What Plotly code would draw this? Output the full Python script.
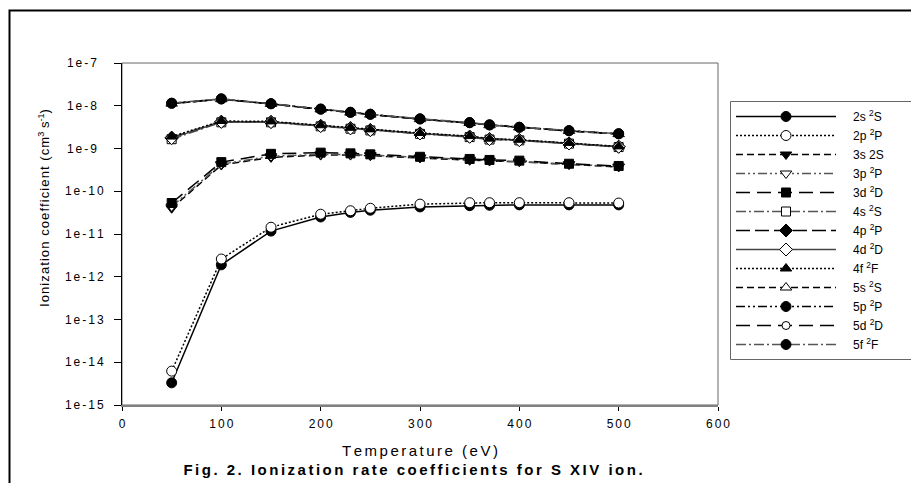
import plotly.graph_objects as go

# Electron temperature grid (eV)
temperature = [50, 100, 150, 200, 230, 250, 300, 350, 370, 400, 450, 500]

# Ionization rate coefficients (cm^3 s^-1) for each initial level
rate_2s = [3.3e-15, 1.9e-12, 1.17e-11, 2.5e-11, 3.2e-11, 3.6e-11, 4.3e-11, 4.6e-11, 4.7e-11, 4.8e-11, 4.8e-11, 4.8e-11]
rate_2p = [6.2e-15, 2.6e-12, 1.44e-11, 2.9e-11, 3.5e-11, 4.0e-11, 5.0e-11, 5.4e-11, 5.4e-11, 5.4e-11, 5.4e-11, 5.3e-11]
rate_3s = [4.0e-11, 4.1e-10, 6.2e-10, 7.0e-10, 7.0e-10, 6.8e-10, 6.0e-10, 5.3e-10, 5.1e-10, 4.9e-10, 4.2e-10, 3.7e-10]
rate_3p = [4.4e-11, 4.3e-10, 6.6e-10, 7.3e-10, 7.2e-10, 7.0e-10, 6.2e-10, 5.5e-10, 5.2e-10, 5.0e-10, 4.3e-10, 3.8e-10]
rate_3d = [5.3e-11, 4.8e-10, 7.5e-10, 8.0e-10, 7.7e-10, 7.3e-10, 6.4e-10, 5.7e-10, 5.4e-10, 5.2e-10, 4.4e-10, 3.9e-10]
rate_4s = [1.65e-9, 4.1e-9, 4.1e-9, 3.3e-9, 2.9e-9, 2.65e-9, 2.2e-9, 1.85e-9, 1.62e-9, 1.55e-9, 1.3e-9, 1.08e-9]
rate_4p = [1.8e-9, 4.25e-9, 4.2e-9, 3.4e-9, 3.0e-9, 2.7e-9, 2.26e-9, 1.9e-9, 1.67e-9, 1.58e-9, 1.32e-9, 1.1e-9]
rate_4d = [1.75e-9, 4.2e-9, 4.15e-9, 3.35e-9, 2.95e-9, 2.7e-9, 2.25e-9, 1.88e-9, 1.66e-9, 1.57e-9, 1.31e-9, 1.1e-9]
rate_4f = [1.9e-9, 4.4e-9, 4.3e-9, 3.5e-9, 3.05e-9, 2.8e-9, 2.3e-9, 1.95e-9, 1.7e-9, 1.6e-9, 1.35e-9, 1.12e-9]
rate_5s = [1.12e-8, 1.42e-8, 1.1e-8, 8.2e-9, 6.9e-9, 6.2e-9, 4.85e-9, 3.95e-9, 3.5e-9, 3.1e-9, 2.57e-9, 2.17e-9]
rate_5p = [1.14e-8, 1.44e-8, 1.11e-8, 8.3e-9, 7.0e-9, 6.3e-9, 4.9e-9, 4.0e-9, 3.55e-9, 3.13e-9, 2.6e-9, 2.2e-9]
rate_5d = [1.13e-8, 1.43e-8, 1.1e-8, 8.25e-9, 6.95e-9, 6.25e-9, 4.88e-9, 3.98e-9, 3.52e-9, 3.12e-9, 2.58e-9, 2.18e-9]
rate_5f = [1.15e-8, 1.45e-8, 1.12e-8, 8.4e-9, 7.05e-9, 6.35e-9, 4.95e-9, 4.05e-9, 3.58e-9, 3.15e-9, 2.62e-9, 2.22e-9]

level_labels = ["2s <sup>2</sup>S", "2p <sup>2</sup>P", "3s 2S", "3p <sup>2</sup>P", "3d <sup>2</sup>D",
                "4s <sup>2</sup>S", "4p <sup>2</sup>P", "4d <sup>2</sup>D", "4f <sup>2</sup>F",
                "5s <sup>2</sup>S", "5p <sup>2</sup>P", "5d <sup>2</sup>D", "5f <sup>2</sup>F"]

x_tick_values = [0, 100, 200, 300, 400, 500, 600]
y_tick_values = [1e-15, 1e-14, 1e-13, 1e-12, 1e-11, 1e-10, 1e-9, 1e-8, 1e-7]
y_tick_labels = ["1e-15", "1e-14", "1e-13", "1e-12", "1e-11", "1e-10", "1e-9", "1e-8", "1e-7"]

FONT = "Arial, 'Liberation Sans', sans-serif"
HAIR = "\u200a"
SIXTH = "\u2006"


def spaced(s, gap=SIXTH):
    """Loosen letter spacing uniformly between every pair of characters."""
    return gap.join(s)


W, H = 911, 483
L, R, T, B = 122, 193, 63, 78
PW, PH = W - L - R, H - T - B


def px_x(px):
    return (px - L) / PW


def px_y(py):
    return 1 - (py - T) / PH


series = [
    (rate_2s, "solid", "#000", "circle", "#000", 10),
    (rate_2p, "2px,2px", "#000", "circle", "#fff", 10),
    (rate_3s, "7px,4px", "#000", "triangle-down", "#000", 10),
    (rate_3p, "9px,3px,2px,3px,2px,3px", "#555", "triangle-down", "#fff", 10),
    (rate_3d, "14px,7px", "#000", "square", "#000", 9),
    (rate_4s, "10px,3px,2px,3px", "#555", "square", "#fff", 9),
    (rate_4p, "14px,5px", "#000", "diamond", "#000", 10),
    (rate_4d, "solid", "#444", "diamond", "#fff", 10),
    (rate_4f, "2px,2px", "#000", "triangle-up", "#000", 10),
    (rate_5s, "7px,4px", "#000", "triangle-up", "#fff", 10),
    (rate_5p, "9px,3px,2px,3px,2px,3px", "#000", "circle", "#000", 10),
    (rate_5d, "14px,7px", "#000", "circle", "#fff", 8),
    (rate_5f, "10px,3px,2px,3px", "#555", "circle", "#000", 10),
]

fig = go.Figure()
for (vals, dash, lcol, sym, fill, size), name in zip(series, level_labels):
    fig.add_trace(go.Scatter(
        x=temperature, y=vals, name="\u2002\u2002" + name, mode="lines+markers",
        line=dict(color=lcol, width=1.5, dash=dash),
        marker=dict(symbol=sym, size=size, color=fill, line=dict(color="#000", width=1)),
    ))

shapes = [
    # plot-area frame (top and right edges in grey)
    dict(type="rect", xref="paper", yref="paper", x0=0, x1=1, y0=0, y1=1,
         line=dict(color="#666", width=1), layer="below"),
    # legend box, running off the right edge
    dict(type="rect", xref="paper", yref="paper", x0=px_x(730.5), x1=px_x(920), y0=px_y(359.5), y1=px_y(101.5),
         line=dict(color="#666", width=1)),
    # outer figure border
    dict(type="rect", xref="paper", yref="paper", x0=px_x(9.5), x1=px_x(913), y0=px_y(486), y1=px_y(10.5),
         line=dict(color="#000", width=2)),
]

fig.update_layout(
    width=W, height=H,
    margin=dict(l=L, r=R, t=T, b=B),
    paper_bgcolor="#fff", plot_bgcolor="#fff",
    font=dict(family=FONT, color="#000", size=12),
    showlegend=True,
    legend=dict(x=px_x(731), y=px_y(102), xanchor="left", yanchor="top",
                borderwidth=0, bgcolor="rgba(0,0,0,0)",
                font=dict(family=FONT, size=12), itemwidth=100, tracegroupgap=0),
    title=dict(text="<b>" + spaced("Fig. 2. Ionization rate coefficients for S XIV ion.") + "</b>",
               x=413 / W, xanchor="center", y=1 - 470 / H, yanchor="middle",
               font=dict(family=FONT, size=15, color="#000")),
    shapes=shapes,
    annotations=[dict(text=spaced("Ionization coefficient (cm", HAIR) + "<sup>3</sup> s<sup>-1</sup>)",
                      xref="paper", yref="paper", x=px_x(44), y=px_y(208), textangle=-90,
                      showarrow=False, font=dict(family=FONT, size=13), xanchor="center", yanchor="middle")],
)

fig.update_xaxes(range=[0, 600], tickvals=x_tick_values, ticktext=[spaced(str(v)) for v in x_tick_values],
                 showgrid=False, zeroline=False, showline=True, linecolor="#808080", linewidth=2,
                 ticks="outside", ticklen=4, tickcolor="#000", ticklabelstandoff=3,
                 tickfont=dict(family=FONT, size=12),
                 title=dict(text=spaced("Temperature (eV)"), font=dict(family=FONT, size=15), standoff=15))
fig.update_yaxes(type="log", range=[-15, -7], tickvals=y_tick_values,
                 ticktext=[spaced(t) + "\u2007" * (5 - len(t)) for t in y_tick_labels],
                 tickfont=dict(family=FONT, size=12),
                 showgrid=False, zeroline=False, showline=True, linecolor="#000", linewidth=1,
                 ticks="outside", ticklen=7, tickcolor="#000", ticklabelstandoff=8)

fig.write_html("out.html")
